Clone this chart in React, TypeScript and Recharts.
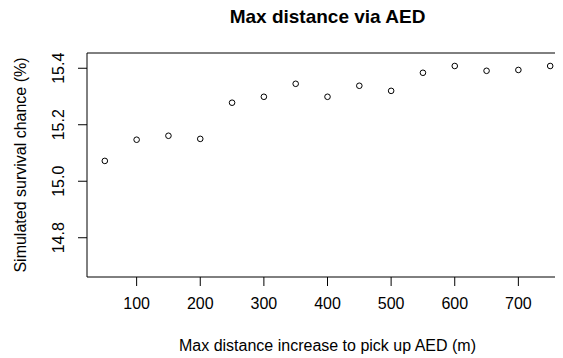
import { ScatterChart, Scatter, XAxis, YAxis, ReferenceArea } from "recharts";

const distances = [50, 100, 150, 200, 250, 300, 350, 400, 450, 500, 550, 600, 650, 700, 750];
const survival = [
    15.072, 15.147, 15.161, 15.15, 15.278, 15.299, 15.345, 15.299, 15.338, 15.32, 15.384, 15.408,
    15.391, 15.394, 15.408,
];
const xTicks = [100, 200, 300, 400, 500, 600, 700];
const yTicks = [14.8, 15.0, 15.2, 15.4];

const title = "Max distance via AED";
const xLabel = "Max distance increase to pick up AED (m)";
const yLabel = "Simulated survival chance (%)";

// base-graphics style: axis range padded 4% past the data on each side
const X_DOMAIN: [number, number] = [22, 778];
const Y_DOMAIN: [number, number] = [14.661, 15.454];

const FONT = "'Liberation Sans', Arial, sans-serif";

const points = distances.map((d, i) => ({ x: d, y: survival[i] }));

function XTick({ x, y, payload }: { x?: number; y?: number; payload?: { value: number } }) {
    return (
        <text x={x} y={(y ?? 0) + 21} textAnchor="middle" fontSize={16} fontFamily={FONT} fill="#000">
            {payload?.value}
        </text>
    );
}

function YTick({ x, y, payload }: { x?: number; y?: number; payload?: { value: number } }) {
    const px = (x ?? 0) - 12;
    const py = y ?? 0;
    return (
        <text
            x={px}
            y={py}
            transform={`rotate(-90 ${px} ${py})`}
            textAnchor="middle"
            fontSize={16}
            fontFamily={FONT}
            fill="#000"
        >
            {payload?.value.toFixed(1)}
        </text>
    );
}

function OpenCircle({ cx, cy }: { cx?: number; cy?: number }) {
    return <circle cx={cx} cy={cy} r={2.8} fill="none" stroke="#000" strokeWidth={1} />;
}

export default function App() {
    return (
        <div
            style={{
                position: "relative",
                margin: "-8px 0 0 -8px",
                width: 563,
                height: 358,
                overflow: "hidden",
                background: "#fff",
            }}
        >
            {/* plot box runs past the right edge, so the right margin is negative */}
            <ScatterChart width={563} height={358} margin={{ top: 53, right: -5, bottom: 0, left: 0 }}>
                <XAxis
                    type="number"
                    dataKey="x"
                    domain={X_DOMAIN}
                    ticks={xTicks}
                    allowDataOverflow
                    axisLine={false}
                    tickSize={9}
                    tickLine={{ stroke: "#000" }}
                    tick={<XTick />}
                    height={81}
                />
                <YAxis
                    type="number"
                    dataKey="y"
                    domain={Y_DOMAIN}
                    ticks={yTicks}
                    allowDataOverflow
                    axisLine={false}
                    tickSize={9}
                    tickLine={{ stroke: "#000" }}
                    tick={<YTick />}
                    width={87}
                />
                <ReferenceArea
                    x1={X_DOMAIN[0]}
                    x2={X_DOMAIN[1]}
                    y1={Y_DOMAIN[0]}
                    y2={Y_DOMAIN[1]}
                    fill="none"
                    stroke="#000"
                    strokeWidth={1}
                    ifOverflow="visible"
                />
                <Scatter data={points} shape={<OpenCircle />} isAnimationActive={false} />
            </ScatterChart>
            <svg
                width={563}
                height={358}
                style={{ position: "absolute", left: 0, top: 0, pointerEvents: "none" }}
            >
                <text x={327.5} y={23} textAnchor="middle" fontSize={19} fontWeight="bold" fontFamily={FONT} fill="#000">
                    {title}
                </text>
                <text x={327.5} y={351} textAnchor="middle" fontSize={16} fontFamily={FONT} fill="#000">
                    {xLabel}
                </text>
                <text
                    x={26}
                    y={165}
                    transform="rotate(-90 26 165)"
                    textAnchor="middle"
                    fontSize={16}
                    fontFamily={FONT}
                    fill="#000"
                >
                    {yLabel}
                </text>
            </svg>
        </div>
    );
}
